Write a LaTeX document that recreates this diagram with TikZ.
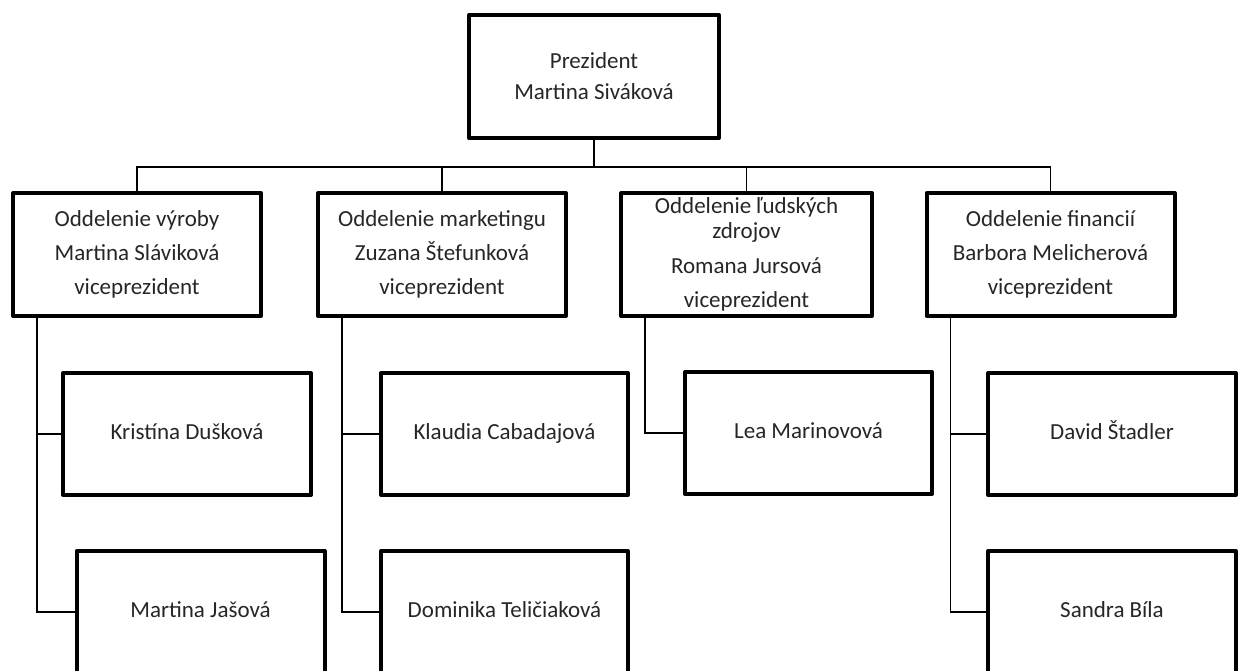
\documentclass[tikz,border=0pt]{standalone}
\usepackage{fontspec}
\setmainfont{Carlito}
\tikzset{
  frame/.style={draw,line width=4pt,line join=round,minimum width=248pt,minimum height=123pt,
    inner sep=0pt,text=black!85,font=\fontsize{23}{34}\selectfont},
  dept/.style={frame,align=center},
  person/.style={frame,minimum height=122pt,text height=16pt,text depth=5pt},
  link/.style={line width=1.8pt}
}
\begin{document}
\begin{tikzpicture}[x=1pt,y=-1pt]
  \useasboundingbox (0,0) rectangle (1240,670);
  \clip (0,0) rectangle (1240,670);
  \node[dept,minimum width=250pt] (pres) at (594,76.5) {Prezident\\[-3pt]Martina Siváková};

  \node[dept] (vyroba) at (137,254.5) {Oddelenie výroby\\Martina Sláviková\\viceprezident};
  \node[dept] (marketing) at (442,254.5) {Oddelenie marketingu\\Zuzana Štefunková\\viceprezident};
  \node[dept,minimum width=251pt] (zdroje) at (746.5,254.5)
    {Oddelenie ľudských\\[-9pt]zdrojov\\[1pt]Romana Jursová\\[0pt]viceprezident};
  \node[dept] (financie) at (1050.5,254.5) {Oddelenie financií\\Barbora Melicherová\\viceprezident};

  \node[person] (duskova) at (187,434) {Kristína Dušková};
  \node[person] (jasova) at (200.5,612) {Martina Jašová};
  \node[person,minimum width=247pt] (cabadajova) at (504.5,434) {Klaudia Cabadajová};
  \node[person,minimum width=247pt] (teliciakova) at (504.5,612) {Dominika Teličiaková};
  \node[person,minimum width=247pt] (marinovova) at (808.5,433) {Lea Marinovová};
  \node[person] (stadler) at (1112,434) {David Štadler};
  \node[person] (bila) at (1112,612) {Sandra Bíla};

  \foreach \d in {vyroba,marketing,zdroje,financie}
    \draw[link] (pres.south) -- ++(0,27) -| (\d.north);

  \draw[link] ([xshift=26pt]vyroba.south west) |- (duskova.west);
  \draw[link] ([xshift=26pt]vyroba.south west) |- (jasova.west);
  \draw[link] ([xshift=26pt]marketing.south west) |- (cabadajova.west);
  \draw[link] ([xshift=26pt]marketing.south west) |- (teliciakova.west);
  \draw[link] ([xshift=26pt]zdroje.south west) |- (marinovova.west);
  \draw[link] ([xshift=26pt]financie.south west) |- (stadler.west);
  \draw[link] ([xshift=26pt]financie.south west) |- (bila.west);
\end{tikzpicture}
\end{document}
